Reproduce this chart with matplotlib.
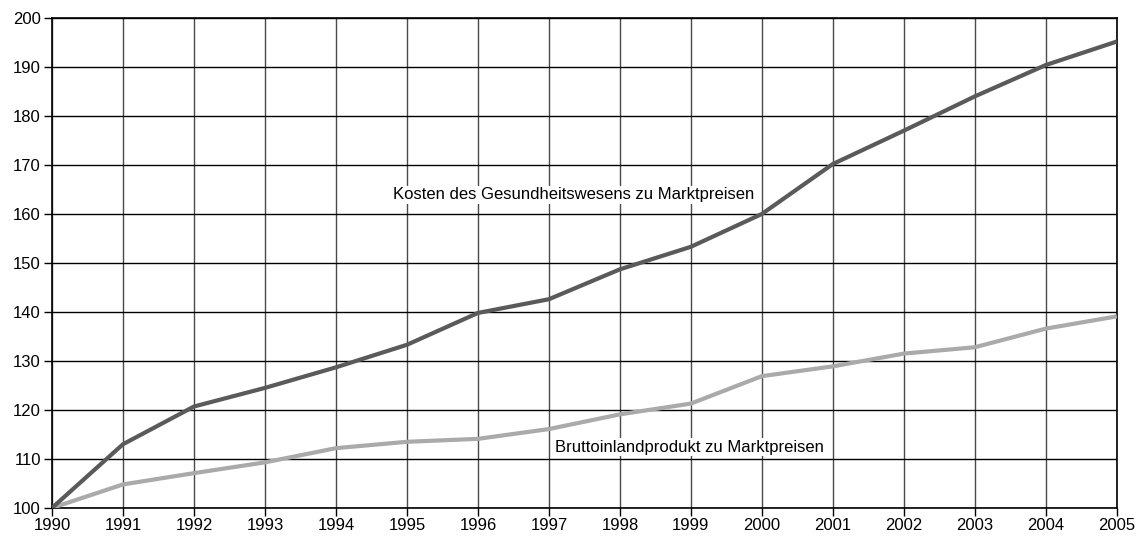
import matplotlib.pyplot as plt

plt.rcParams['font.family'] = ['Liberation Sans', 'DejaVu Sans']

years = list(range(1990, 2006))

# Kosten des Gesundheitswesens (index 1990 = 100)
kosten = [100, 113.0, 120.7, 124.5, 128.7, 133.3, 139.8, 142.6,
          148.7, 153.3, 160.0, 170.2, 177.0, 184.0, 190.4, 195.2]
# Bruttoinlandprodukt (index 1990 = 100)
bip = [100, 104.8, 107.1, 109.3, 112.2, 113.5, 114.1, 116.1,
       119.1, 121.3, 126.9, 128.9, 131.5, 132.8, 136.6, 139.1]

label_kosten = "Kosten des Gesundheitswesens zu Marktpreisen"
label_bip = "Bruttoinlandprodukt zu Marktpreisen"

fig = plt.figure(figsize=(11.45, 5.45), dpi=100)
ax = fig.add_axes([0.0454, 0.068, 0.930, 0.899])

ax.set_xlim(1990, 2005)
ax.set_ylim(100, 200)
ax.set_xticks(years)
ax.set_yticks(range(100, 201, 10))

# grid: horizontal black, vertical dark grey
ax.grid(axis='y', color='black', linewidth=1.0)
ax.grid(axis='x', color='#4a4a4a', linewidth=1.0)
ax.set_axisbelow(True)

ax.plot(years, bip, color='#aaaaaa', linewidth=3.0, solid_capstyle='butt', zorder=3)
ax.plot(years, kosten, color='#5a5a5a', linewidth=3.0, solid_capstyle='butt', zorder=4)

ax.text(1994.8, 163.9, label_kosten, fontsize=12, va='center', ha='left',
        bbox=dict(facecolor='white', edgecolor='none', pad=1), zorder=5)
ax.text(1997.08, 112.4, label_bip, fontsize=12, va='center', ha='left',
        bbox=dict(facecolor='white', edgecolor='none', pad=1), zorder=5)

for s in ax.spines.values():
    s.set_color('black')
    s.set_linewidth(1.2)

ax.tick_params(axis='both', direction='out', length=6, width=1, labelsize=12, colors='black')
ax.tick_params(axis='x', pad=1)
ax.tick_params(axis='y', pad=2)

fig.savefig('out.png', dpi=100)
